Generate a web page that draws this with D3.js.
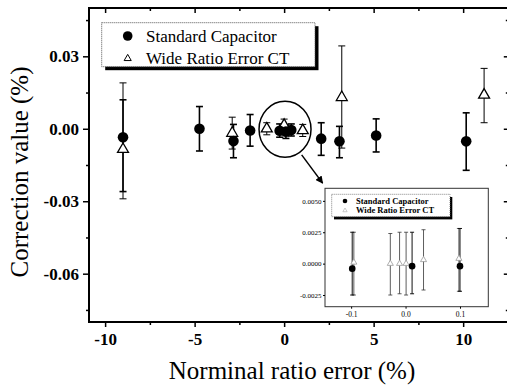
<!DOCTYPE html>
<html>
<head>
<meta charset="utf-8">
<script src="https://cdn.jsdelivr.net/npm/d3@7"></script>
<style>
  body { margin: 0; background: #fff; }
  svg, svg text { font-family: "Liberation Serif", "Times New Roman", serif; }
  svg { display: block; }
</style>
</head>
<body>
<svg width="507" height="385"></svg>
<script>
// main chart ticks
const xTicks = [-10, -5, 0, 5, 10];
const xTickLabels = ["-10", "-5", "0", "5", "10"];
const xMinor = [-7.5, -2.5, 2.5, 7.5, 12.5];
const yTicks = [-0.06, -0.03, 0, 0.03];
const yTickLabels = ["-0.06", "-0.03", "0.00", "0.03"];
const yMinor = [-0.075, -0.045, -0.015, 0.015, 0.045];

// Standard Capacitor (filled circles)
const capX  = [-9.0, -4.73, -2.83, -1.9, -0.25, 0.1, 0.4, 2.07, 3.09, 5.14, 10.17];
const capY  = [-0.0035, 0.0, -0.0051, -0.0007, -0.0008, -0.0012, -0.0005, -0.0041, -0.0052, -0.0028, -0.0052];
const capHi = [0.012, 0.0092, 0.0018, 0.0059, 0.002, 0.0015, 0.002, 0.0025, 0.001, 0.0041, 0.0066];
const capLo = [-0.026, -0.0092, -0.012, -0.0072, -0.0035, -0.004, -0.003, -0.011, -0.012, -0.0096, -0.0172];

// Wide Ratio Error CT (open triangles)
const ctX  = [-9.0, -2.9, -0.97, 0.0, 1.04, 3.22, 11.17];
const ctY  = [-0.0085, -0.0018, 0.0, 0.0015, -0.0007, 0.013, 0.014];
const ctHi = [0.019, 0.0048, 0.0025, 0.004, 0.0018, 0.0343, 0.025];
const ctLo = [-0.029, -0.0084, -0.0025, -0.001, -0.0032, -0.008, 0.0025];

// inset
const inXTicks = [-0.1, 0, 0.1];
const inXTickLabels = ["-0.1", "0.0", "0.1"];
const inYTicks = [-0.0025, 0, 0.0025, 0.005];
const inYTickLabels = ["-0.0025", "0.0000", "0.0025", "0.0050"];
const inCapX  = [-0.098, 0.012, 0.10];
const inCapY  = [-0.0004, -0.0002, -0.0002];
const inCapHi = [0.0025, 0.0025, 0.0028];
const inCapLo = [-0.0025, -0.0024, -0.0022];
const inCtX  = [-0.095, -0.028, -0.011, 0.001, 0.033, 0.098];
const inCtY  = [0.0001, 0.0, 0.0, 0.0, 0.0003, 0.0004];
const inCtHi = [0.0025, 0.0024, 0.0025, 0.0025, 0.0027, 0.0028];
const inCtLo = [-0.0025, -0.0025, -0.0024, -0.0025, -0.0021, -0.0022];

const legendNames = ["Standard Capacitor", "Wide Ratio Error CT"];

// zoom ellipse and arrow in data units
const zoomCenter = [0.05, -0.0002];
const arrowFrom = [0.98, -0.0108];
const arrowTo = [2.15, -0.0225];

const svg = d3.select("svg");

const x = d3.scaleLinear().domain([-10.9, 12.55]).range([89, 508.8]);
const y = d3.scaleLinear().domain([-0.08, 0.05]).range([322, 8]);

function rows(xs, ys, hi, lo) {
  return xs.map((d, i) => ({x: d, y: ys[i], hi: hi[i], lo: lo[i]}));
}

function errorBars(g, data, sx, sy, cap, sw, color) {
  const e = g.append("g").attr("stroke", color).attr("stroke-width", sw).attr("fill", "none");
  e.selectAll(".v").data(data).enter().append("line")
    .attr("x1", d => sx(d.x)).attr("x2", d => sx(d.x))
    .attr("y1", d => sy(d.hi)).attr("y2", d => sy(d.lo));
  e.selectAll(".t").data(data).enter().append("line")
    .attr("x1", d => sx(d.x) - cap).attr("x2", d => sx(d.x) + cap)
    .attr("y1", d => sy(d.hi)).attr("y2", d => sy(d.hi));
  e.selectAll(".b").data(data).enter().append("line")
    .attr("x1", d => sx(d.x) - cap).attr("x2", d => sx(d.x) + cap)
    .attr("y1", d => sy(d.lo)).attr("y2", d => sy(d.lo));
}

// frame
svg.append("rect")
  .attr("x", x.range()[0]).attr("y", y.range()[1])
  .attr("width", x.range()[1] - x.range()[0]).attr("height", y.range()[0] - y.range()[1])
  .attr("fill", "none").attr("stroke", "#000").attr("stroke-width", 2);

function styleAxis(g, fs) {
  g.attr("font-family", null).attr("font-size", null);
  g.select(".domain").remove();
  g.selectAll("line").attr("stroke", "#000").attr("stroke-width", 1.5);
  g.selectAll("text").attr("fill", "#000").style("font-size", fs);
}

// bottom axis
svg.append("g").attr("transform", "translate(0,322)")
  .call(d3.axisBottom(x).tickValues(xTicks).tickFormat((d, i) => xTickLabels[i]).tickSize(5).tickPadding(6))
  .call(g => styleAxis(g, "17px"))
  .call(g => g.selectAll("text").style("font-weight", "bold"));
svg.append("g").attr("transform", "translate(0,322)")
  .call(d3.axisBottom(x).tickValues(xMinor).tickFormat("").tickSize(3))
  .call(g => styleAxis(g, "17px"));
// top axis, ticks inward
svg.append("g").attr("transform", "translate(0,8)")
  .call(d3.axisBottom(x).tickValues(xTicks).tickFormat("").tickSize(5))
  .call(g => styleAxis(g, "17px"));
svg.append("g").attr("transform", "translate(0,8)")
  .call(d3.axisBottom(x).tickValues(xMinor).tickFormat("").tickSize(3))
  .call(g => styleAxis(g, "17px"));
// left axis
svg.append("g").attr("transform", "translate(89,0)")
  .call(d3.axisLeft(y).tickValues(yTicks).tickFormat((d, i) => yTickLabels[i]).tickSize(6).tickPadding(4))
  .call(g => styleAxis(g, "17px"))
  .call(g => g.selectAll("text").style("font-weight", "bold"));
svg.append("g").attr("transform", "translate(89,0)")
  .call(d3.axisLeft(y).tickValues(yMinor).tickFormat("").tickSize(3))
  .call(g => styleAxis(g, "17px"));
// right axis, ticks inward
svg.append("g").attr("transform", "translate(508.8,0)")
  .call(d3.axisLeft(y).tickValues(yTicks).tickFormat("").tickSize(5))
  .call(g => styleAxis(g, "17px"));
svg.append("g").attr("transform", "translate(508.8,0)")
  .call(d3.axisLeft(y).tickValues(yMinor).tickFormat("").tickSize(3))
  .call(g => styleAxis(g, "17px"));

// axis titles
svg.append("text").attr("x", 292).attr("y", 379).attr("text-anchor", "middle")
  .style("font-size", "25px").text("Norminal ratio error (%)");
svg.append("text").attr("transform", "translate(28,172) rotate(-90)").attr("text-anchor", "middle")
  .style("font-size", "25px").text("Correction value (%)");

// main marks
const plot = svg.append("g");
const capData = rows(capX, capY, capHi, capLo);
const ctData = rows(ctX, ctY, ctHi, ctLo);
errorBars(plot, ctData, x, y, 3.5, 1, "#000");
errorBars(plot, capData, x, y, 3.5, 1.6, "#000");
const triMain = d3.symbol().type(d3.symbolTriangle).size(52);
plot.selectAll(".ct").data(ctData).enter().append("path")
  .attr("d", triMain)
  .attr("transform", d => `translate(${x(d.x)},${y(d.y)})`)
  .attr("fill", "#fff").attr("stroke", "#000").attr("stroke-width", 1.3);
plot.selectAll(".cap").data(capData).enter().append("circle")
  .attr("cx", d => x(d.x)).attr("cy", d => y(d.y)).attr("r", 5.3)
  .attr("fill", "#000");

// zoom ellipse
svg.append("ellipse")
  .attr("cx", x(zoomCenter[0])).attr("cy", y(zoomCenter[1]))
  .attr("rx", 26).attr("ry", 28)
  .attr("fill", "none").attr("stroke", "#000").attr("stroke-width", 1.5);

// arrow
svg.append("defs").append("marker")
  .attr("id", "ah").attr("viewBox", "0 0 10 10").attr("refX", 9).attr("refY", 5)
  .attr("markerWidth", 5).attr("markerHeight", 5).attr("orient", "auto")
  .append("path").attr("d", "M0,0 L10,5 L0,10 Z").attr("fill", "#000");
svg.append("line")
  .attr("x1", x(arrowFrom[0])).attr("y1", y(arrowFrom[1]))
  .attr("x2", x(arrowTo[0])).attr("y2", y(arrowTo[1]))
  .attr("stroke", "#000").attr("stroke-width", 1.5).attr("marker-end", "url(#ah)");

// inset
const xi = d3.scaleLinear().domain([-0.148, 0.152]).range([325, 488.3]);
const yi = d3.scaleLinear().domain([-0.00343, 0.006]).range([306.7, 188.3]);
const inset = svg.append("g");
inset.append("rect")
  .attr("x", xi.range()[0]).attr("y", yi.range()[1])
  .attr("width", xi.range()[1] - xi.range()[0]).attr("height", yi.range()[0] - yi.range()[1])
  .attr("fill", "#fff").attr("stroke", "#333").attr("stroke-width", 1);
inset.append("g").attr("transform", `translate(0,${yi.range()[0]})`)
  .call(d3.axisBottom(xi).tickValues(inXTicks).tickFormat((d, i) => inXTickLabels[i]).tickSize(2).tickPadding(3))
  .call(g => { styleAxis(g, "7.5px"); g.selectAll("line").attr("stroke-width", 1); });
inset.append("g").attr("transform", `translate(${xi.range()[0]},0)`)
  .call(d3.axisLeft(yi).tickValues(inYTicks).tickFormat((d, i) => inYTickLabels[i]).tickSize(2).tickPadding(1.5))
  .call(g => { styleAxis(g, "7px"); g.selectAll("line").attr("stroke-width", 1); });

const inCapData = rows(inCapX, inCapY, inCapHi, inCapLo);
const inCtData = rows(inCtX, inCtY, inCtHi, inCtLo);
errorBars(inset, inCtData, xi, yi, 2, 0.8, "#333");
errorBars(inset, inCapData, xi, yi, 2, 1, "#111");
const triIn = d3.symbol().type(d3.symbolTriangle).size(16);
inset.selectAll(".ict").data(inCtData).enter().append("path")
  .attr("d", triIn)
  .attr("transform", d => `translate(${xi(d.x)},${yi(d.y)})`)
  .attr("fill", "#fff").attr("stroke", "#999").attr("stroke-width", 0.8);
inset.selectAll(".icap").data(inCapData).enter().append("circle")
  .attr("cx", d => xi(d.x)).attr("cy", d => yi(d.y)).attr("r", 3.3)
  .attr("fill", "#000");

// inset legend
inset.append("rect").attr("x", 334).attr("y", 197).attr("width", 118.3).attr("height", 22.4).attr("fill", "#000");
inset.append("rect").attr("x", 331.7).attr("y", 194.3).attr("width", 118.3).attr("height", 22.4)
  .attr("fill", "#fff").attr("stroke", "#666").attr("stroke-width", 0.8).attr("stroke-dasharray", "1,1");
inset.append("circle").attr("cx", 345).attr("cy", 201).attr("r", 2.3).attr("fill", "#000");
inset.append("path").attr("d", d3.symbol().type(d3.symbolTriangle).size(8))
  .attr("transform", "translate(345,210.5)").attr("fill", "#fff").attr("stroke", "#aaa").attr("stroke-width", 0.6);
inset.selectAll(".ilt").data(legendNames).enter().append("text")
  .attr("x", 356).attr("y", (d, i) => 203.8 + i * 9.6)
  .style("font-size", "8.5px").style("font-weight", "bold").text(d => d);

// main legend
svg.append("rect").attr("x", 105.2).attr("y", 26.2).attr("width", 213.3).attr("height", 44).attr("fill", "#000");
svg.append("rect").attr("x", 101.7).attr("y", 22.7).attr("width", 213.3).attr("height", 44)
  .attr("fill", "#fff").attr("stroke", "#555").attr("stroke-width", 1).attr("stroke-dasharray", "1,1");
svg.append("circle").attr("cx", 127.7).attr("cy", 36).attr("r", 4.8).attr("fill", "#000");
svg.append("path").attr("d", d3.symbol().type(d3.symbolTriangle).size(22))
  .attr("transform", "translate(127.7,58.5)").attr("fill", "#fff").attr("stroke", "#000").attr("stroke-width", 1);
svg.selectAll(".lt").data(legendNames).enter().append("text")
  .attr("x", 146).attr("y", (d, i) => 41.5 + i * 22)
  .style("font-size", "17px").text(d => d);
</script>
</body>
</html>
